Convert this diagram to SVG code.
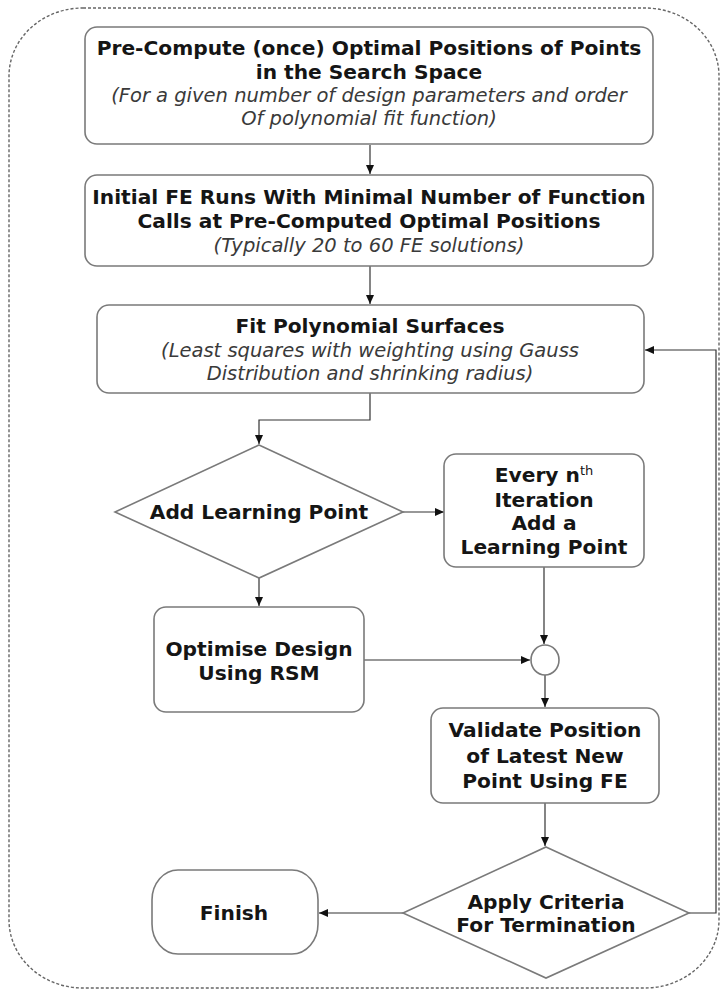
<svg xmlns="http://www.w3.org/2000/svg" width="722" height="992" viewBox="0 0 722 992">
<defs>
<marker id="ah" markerWidth="10" markerHeight="10" refX="9" refY="5" orient="auto" markerUnits="userSpaceOnUse">
<path d="M0,1 L9,5 L0,9 Z" fill="#111"/>
</marker>
<style>
.box{fill:#fff;stroke:#7a7a7a;stroke-width:1.6}
.b{font-family:"DejaVu Sans","Verdana",sans-serif;font-weight:bold;font-size:20.2px;fill:#151515;text-anchor:middle}
.i{font-family:"DejaVu Sans","Verdana",sans-serif;font-style:italic;font-size:19.5px;fill:#3a3a3a;text-anchor:middle}
.ln{fill:none;stroke:#333;stroke-width:1.2}
.border{fill:none;stroke:#666;stroke-width:1.4;stroke-dasharray:3 2}
</style>
</defs>
<rect class="border" x="9" y="8" width="710" height="980" rx="74" ry="68"/>

<g id="connectors">
<path class="ln" d="M370,145 V174" marker-end="url(#ah)"/>
<path class="ln" d="M370,266 V304" marker-end="url(#ah)"/>
<path class="ln" d="M370,393 V420 H259 V444" marker-end="url(#ah)"/>
<path class="ln" d="M403,512 H444" marker-end="url(#ah)"/>
<path class="ln" d="M544,567 V644" marker-end="url(#ah)"/>
<path class="ln" d="M259,578 V606" marker-end="url(#ah)"/>
<path class="ln" d="M364,660 H530" marker-end="url(#ah)"/>
<path class="ln" d="M545,675 V707" marker-end="url(#ah)"/>
<path class="ln" d="M545,803 V846" marker-end="url(#ah)"/>
<path class="ln" d="M689,913 H716 V350 H645" marker-end="url(#ah)"/>
<path class="ln" d="M403,913 H319" marker-end="url(#ah)"/>
</g>

<g id="precompute">
<rect class="box" x="85" y="27" width="568" height="117" rx="12"/>
<text class="b" x="369" y="55">Pre-Compute (once) Optimal Positions of Points</text>
<text class="b" x="369" y="79">in the Search Space</text>
<text class="i" x="369" y="102">(For a given number of design parameters and order</text>
<text class="i" x="369" y="125">Of polynomial fit function)</text>
</g>

<g id="initial-fe">
<rect class="box" x="85" y="175" width="568" height="91" rx="12"/>
<text class="b" x="369" y="204">Initial FE Runs With Minimal Number of Function</text>
<text class="b" x="369" y="228">Calls at Pre-Computed Optimal Positions</text>
<text class="i" x="369" y="252">(Typically 20 to 60 FE solutions)</text>
</g>

<g id="fit">
<rect class="box" x="97" y="305" width="547" height="88" rx="12"/>
<text class="b" x="370" y="333">Fit Polynomial Surfaces</text>
<text class="i" x="370" y="357">(Least squares with weighting using Gauss</text>
<text class="i" x="370" y="380">Distribution and shrinking radius)</text>
</g>

<g id="add-learning">
<polygon class="box" points="259,445 403,512 259,578 115,512"/>
<text class="b" x="259" y="519">Add Learning Point</text>
</g>

<g id="every-nth">
<rect class="box" x="444" y="454" width="200" height="113" rx="12"/>
<text class="b" x="544" y="482">Every n<tspan font-size="13" font-weight="normal" dy="-7">th</tspan></text>
<text class="b" x="544" y="507">Iteration</text>
<text class="b" x="544" y="530">Add a</text>
<text class="b" x="544" y="554">Learning Point</text>
</g>

<g id="junction">
<ellipse class="box" cx="545" cy="660" rx="14" ry="15"/>
</g>

<g id="optimise">
<rect class="box" x="154" y="607" width="210" height="105" rx="12"/>
<text class="b" x="259" y="656">Optimise Design</text>
<text class="b" x="259" y="680">Using RSM</text>
</g>

<g id="validate">
<rect class="box" x="431" y="708" width="228" height="95" rx="12"/>
<text class="b" x="545" y="737">Validate Position</text>
<text class="b" x="545" y="763">of Latest New</text>
<text class="b" x="545" y="788">Point Using FE</text>
</g>

<g id="criteria">
<polygon class="box" points="546,847 689,913 546,978 403,913"/>
<text class="b" x="546" y="909">Apply Criteria</text>
<text class="b" x="546" y="932">For Termination</text>
</g>

<g id="finish">
<rect class="box" x="152" y="870" width="166" height="84" rx="26" ry="30"/>
<text class="b" x="234" y="920">Finish</text>
</g>
</svg>
